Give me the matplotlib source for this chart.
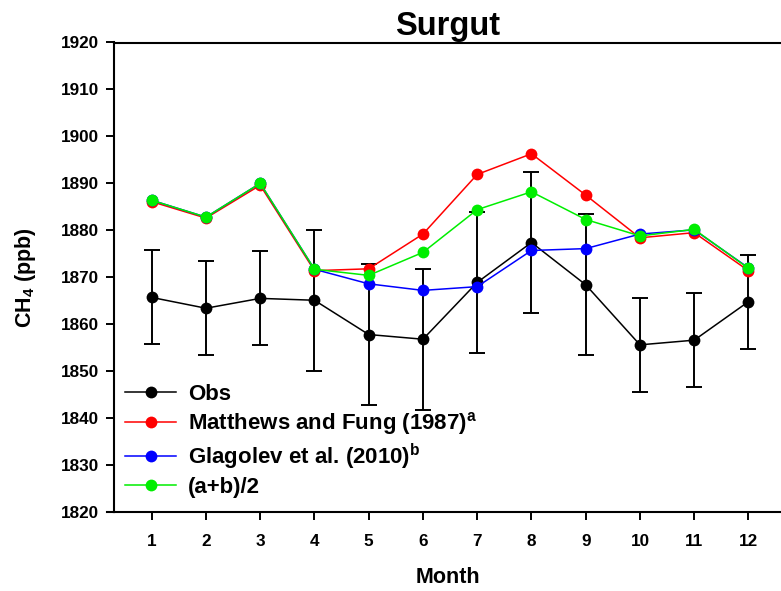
import matplotlib
matplotlib.use("Agg")
import matplotlib.pyplot as plt
from matplotlib.lines import Line2D

plt.rcParams['font.family'] = ['Liberation Sans', 'DejaVu Sans']
plt.rcParams['font.weight'] = 'bold'
plt.rcParams['mathtext.fontset'] = 'custom'
plt.rcParams['mathtext.rm'] = 'Liberation Sans:bold'
plt.rcParams['mathtext.bf'] = 'Liberation Sans:bold'
plt.rcParams['mathtext.it'] = 'Liberation Sans:bold'

months = [1, 2, 3, 4, 5, 6, 7, 8, 9, 10, 11, 12]
obs = [1865.7, 1863.4, 1865.5, 1865.1, 1857.8, 1856.8, 1868.9, 1877.4, 1868.4, 1855.6, 1856.6, 1864.8]
obs_err = [10, 10, 10, 15, 15, 15, 15, 15, 15, 10, 10, 10]
matthews = [1886.1, 1882.6, 1889.6, 1871.4, 1871.8, 1879.2, 1891.9, 1896.3, 1887.5, 1878.4, 1879.5, 1871.4]
glagolev = [1886.4, 1882.8, 1890.0, 1871.7, 1868.6, 1867.2, 1868.0, 1875.7, 1876.1, 1879.2, 1880.1, 1872.0]
average = [1886.4, 1882.8, 1890.0, 1871.7, 1870.4, 1875.3, 1884.4, 1888.2, 1882.3, 1878.8, 1880.2, 1871.9]

labels = ['Obs',
          r'Matthews and Fung (1987)$^\mathbf{a}$',
          r'Glagolev et al. (2010)$^\mathbf{b}$',
          '(a+b)/2']
colors = ['black', '#ff0000', '#0000ff', '#00ee00']

W, H = 781, 591
fig = plt.figure(figsize=(W / 100, H / 100), dpi=100)
left = 114 / W
bottom = (H - 512) / H
top = (H - 42.5) / H
ax = fig.add_axes([left, bottom, 1.0 - left, top - bottom])

ms = 8.5
lw = 1.1
ax.errorbar(months, obs, yerr=obs_err, fmt='none', ecolor='black',
            elinewidth=1.4, capsize=5.5, capthick=1.4, zorder=2)
series = [obs, matthews, glagolev, average]
for vals, col, lab, z in zip(series, colors, labels, [3, 4, 5, 6]):
    ax.plot(months, vals, '-o', color=col, markersize=ms, linewidth=lw,
            markeredgewidth=0, label=lab, zorder=z)

ax.set_xlim(0.305, 12.6)
ax.set_ylim(1820, 1920)
ax.set_xticks(months)
ax.set_yticks(range(1820, 1921, 10))
ax.tick_params(axis='both', direction='out', length=6, width=1.4,
               labelsize=12.3)
for lbl in ax.get_xticklabels() + ax.get_yticklabels():
    lbl.set_fontweight('bold')
ax.tick_params(axis='x', pad=10)
ax.tick_params(axis='y', pad=5)

ax.spines['right'].set_visible(False)
for s in ['left', 'bottom', 'top']:
    ax.spines[s].set_linewidth(1.5)

# small extension of bottom axis line to the left
fig.add_artist(Line2D([107 / W, left], [bottom, bottom], color='black',
                      linewidth=1.5, transform=fig.transFigure))

ax.set_title('Surgut', fontsize=23.5, fontweight='bold', pad=5)
ax.set_xlabel('Month', fontsize=15.5, fontweight='bold', labelpad=13)
ax.set_ylabel(r'CH$_4$ (ppb)', fontsize=15.5, fontweight='bold', labelpad=16)

leg = ax.legend(loc='upper left', bbox_to_anchor=(125 / W, 1 - 384 / H),
                bbox_transform=fig.transFigure, frameon=False,
                fontsize=16, handlelength=2.3, handletextpad=0.55,
                labelspacing=0.22, borderpad=0, borderaxespad=0)
for t in leg.get_texts():
    t.set_fontweight('bold')

fig.savefig('out.png', dpi=100)
